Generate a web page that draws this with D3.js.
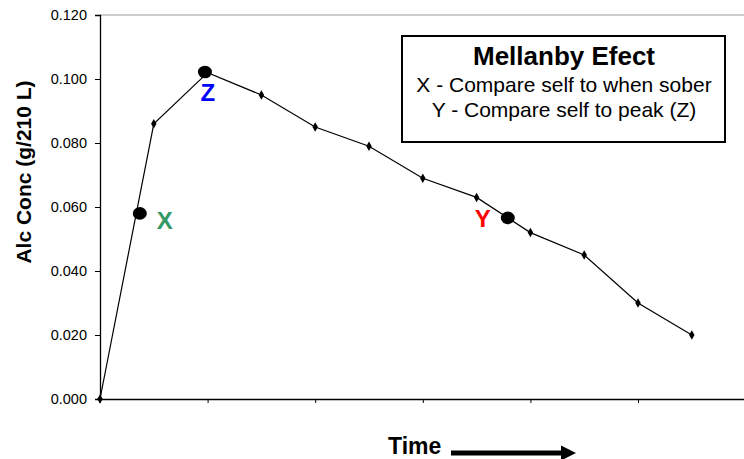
<!DOCTYPE html>
<html>
<head>
<meta charset="utf-8">
<script src="https://cdn.jsdelivr.net/npm/d3@7"></script>
<style>
  html, body { margin: 0; padding: 0; background: #fff; }
  svg { display: block; font-family: Arial, "Liberation Sans", sans-serif; }
</style>
</head>
<body>
<svg id="chart" width="744" height="459"></svg>
<script>
// ---- data ----
const timeIndex = [0, 1, 2, 3, 4, 5, 6, 7, 8, 9, 10, 11];
const alcConc   = [0.000, 0.086, 0.102, 0.095, 0.085, 0.079, 0.069, 0.063, 0.052, 0.045, 0.030, 0.020];
const yTicks    = [0.000, 0.020, 0.040, 0.060, 0.080, 0.100, 0.120];
const xTicks    = [0, 2, 4, 6, 8, 10, 12];
const markNames = ["X", "Z", "Y"];
const markTime  = [0.74, 1.95, 7.58];
const markConc  = [0.058, 0.1022, 0.0566];
const markColor = ["#339966", "#0000ff", "#ff0000"];
const legendTitle = "Mellanby Efect";
const legendLines = ["X - Compare self to when sober", "Y - Compare self to peak (Z)"];
const yTitle = "Alc Conc (g/210 L)";
const xTitle = "Time";

// ---- layout ----
const svg = d3.select("#chart");
const x = d3.scaleLinear().domain([0, 12]).range([100, 745.6]);
const y = d3.scaleLinear().domain([0, 0.12]).range([399, 15]);

// top border (grey)
svg.append("line").attr("x1", 100).attr("x2", 744).attr("y1", y(0.12)).attr("y2", y(0.12))
  .attr("stroke", "#9a9a9a").attr("stroke-width", 1);

// y axis
const yAxis = svg.append("g").attr("transform", "translate(100,0)")
  .call(d3.axisLeft(y).tickValues(yTicks).tickFormat(d3.format(".3f")).tickSize(5).tickPadding(8));
yAxis.select(".domain").attr("stroke", "#000").attr("stroke-width", 1.3);
yAxis.selectAll(".tick line").attr("stroke", "#000");
yAxis.selectAll(".tick text").attr("font-size", 14.5).attr("fill", "#000")
  .attr("font-family", "Arial, 'Liberation Sans', sans-serif");

// x axis
const xAxis = svg.append("g").attr("transform", `translate(0,${y(0)})`)
  .call(d3.axisBottom(x).tickValues(xTicks).tickFormat("").tickSize(4).tickSizeOuter(0));
xAxis.select(".domain").attr("stroke", "#000").attr("stroke-width", 1.3);
xAxis.selectAll(".tick line").attr("stroke", "#000");

// line
const line = d3.line().x((d, i) => x(timeIndex[i])).y(d => y(d));
svg.append("path").datum(alcConc).attr("d", line)
  .attr("fill", "none").attr("stroke", "#000").attr("stroke-width", 1.2);

// small diamond markers
svg.selectAll(".pt").data(alcConc).enter().append("path")
  .attr("class", "pt")
  .attr("d", d3.symbol().type(d3.symbolDiamond).size(26))
  .attr("transform", (d, i) => `translate(${x(timeIndex[i])},${y(d)})`)
  .attr("fill", "#000");

// big markers
svg.selectAll(".big").data(markTime).enter().append("ellipse")
  .attr("cx", d => x(d)).attr("cy", (d, i) => y(markConc[i]))
  .attr("rx", 7).attr("ry", 6.3).attr("fill", "#000");

// marker labels
const labelOffsets = [[25, 16], [3, 29], [-25, 9]];
svg.selectAll(".mlab").data(markNames).enter().append("text")
  .attr("x", (d, i) => x(markTime[i]) + labelOffsets[i][0])
  .attr("y", (d, i) => y(markConc[i]) + labelOffsets[i][1])
  .attr("text-anchor", "middle")
  .attr("font-size", 24).attr("font-weight", "bold")
  .attr("fill", (d, i) => markColor[i])
  .text(d => d);

// legend box
svg.append("rect").attr("x", 402).attr("y", 36).attr("width", 323).attr("height", 106)
  .attr("fill", "#fff").attr("stroke", "#000").attr("stroke-width", 2);
svg.append("text").attr("x", 564).attr("y", 65).attr("text-anchor", "middle")
  .attr("font-size", 26).attr("font-weight", "bold").attr("fill", "#000").text(legendTitle);
svg.selectAll(".leg").data(legendLines).enter().append("text")
  .attr("x", 564).attr("y", (d, i) => 92 + i * 25).attr("text-anchor", "middle")
  .attr("font-size", 21).attr("fill", "#000").text(d => d);

// y title
svg.append("text").attr("transform", "translate(31,172) rotate(-90)")
  .attr("text-anchor", "middle").attr("font-size", 21).attr("font-weight", "bold")
  .attr("fill", "#000").text(yTitle);

// x title with arrow
svg.append("text").attr("x", 388).attr("y", 454)
  .attr("font-size", 23).attr("font-weight", "bold").attr("fill", "#000").text(xTitle);
svg.append("line").attr("x1", 451).attr("x2", 563).attr("y1", 453).attr("y2", 453)
  .attr("stroke", "#000").attr("stroke-width", 5);
svg.append("path").attr("d", "M561,445.5 L576,453 L561,460.5 Z").attr("fill", "#000");
</script>
</body>
</html>
